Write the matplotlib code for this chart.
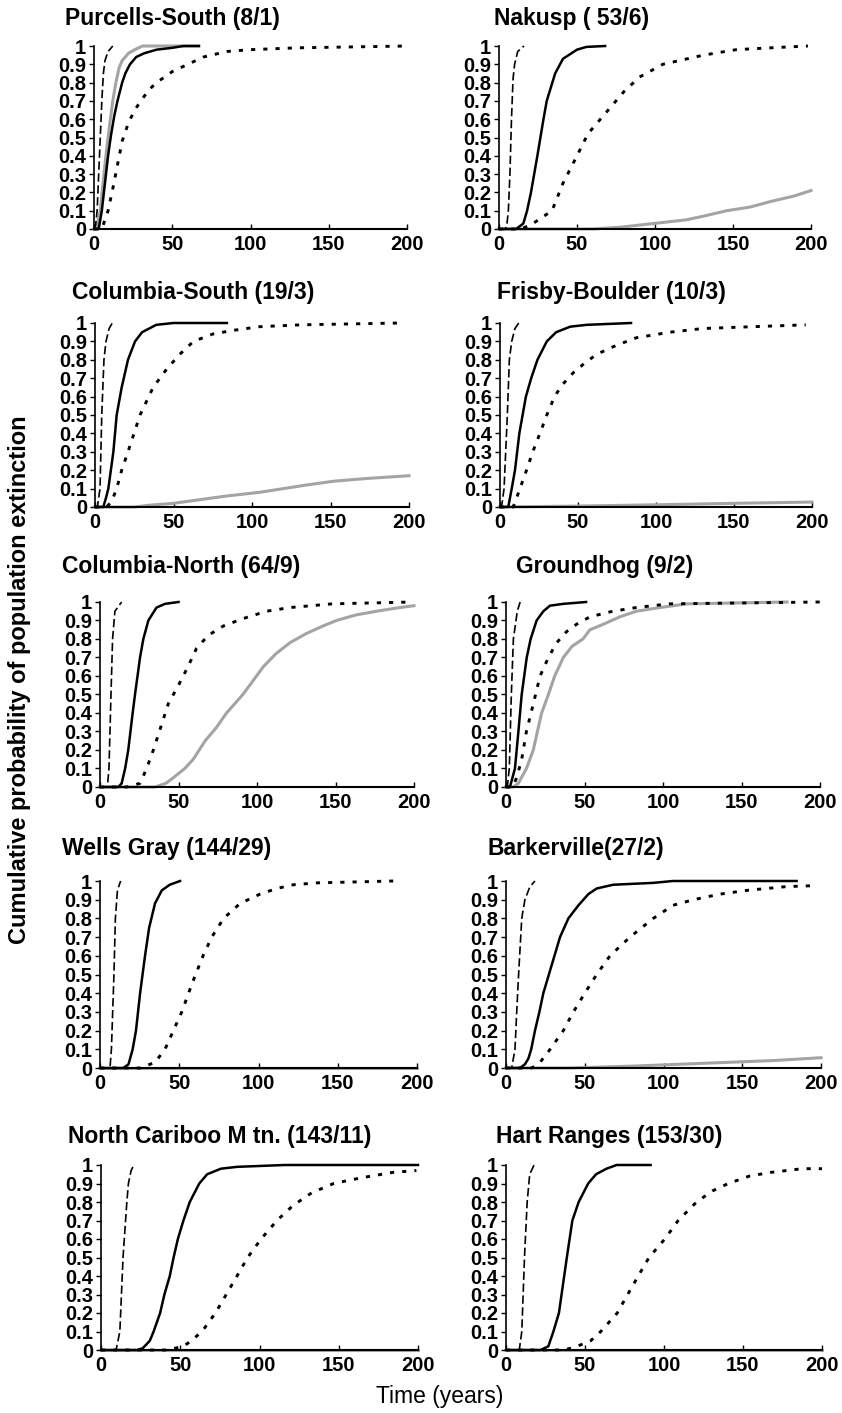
import matplotlib
matplotlib.use("Agg")
import matplotlib.pyplot as plt

plt.rcParams['font.family'] = ['Liberation Sans', 'DejaVu Sans']
plt.rcParams['lines.scale_dashes'] = False

# ---- data: (time in years, cumulative probability) ----
titles = ["Purcells-South (8/1)", "Nakusp ( 53/6)",
          "Columbia-South (19/3)", "Frisby-Boulder (10/3)",
          "Columbia-North (64/9)", "Groundhog (9/2)",
          "Wells Gray (144/29)", "Barkerville(27/2)",
          "North Cariboo M tn. (143/11)", "Hart Ranges (153/30)"]

purcells_dash = ([0, 1, 2, 3, 4, 5, 6, 7, 9, 12],
                 [0, 0.02, 0.1, 0.3, 0.5, 0.7, 0.85, 0.92, 0.97, 1.0])
purcells_solid = ([0, 3, 5, 7, 9, 11, 13, 15, 18, 20, 23, 27, 32, 40, 50, 57, 67],
                  [0, 0, 0.1, 0.25, 0.4, 0.52, 0.62, 0.7, 0.8, 0.85, 0.9, 0.94, 0.96, 0.98, 0.99, 1.0, 1.0])
purcells_dot = ([0, 5, 7, 9, 12, 15, 18, 22, 26, 30, 35, 40, 50, 60, 70, 85, 100, 130, 200],
                [0, 0, 0.05, 0.1, 0.22, 0.35, 0.48, 0.58, 0.65, 0.7, 0.76, 0.8, 0.86, 0.9, 0.94, 0.97, 0.98, 0.99, 1.0])
purcells_gray = ([0, 2, 4, 6, 8, 10, 12, 14, 16, 18, 22, 26, 31, 67],
                 [0, 0.02, 0.1, 0.27, 0.43, 0.57, 0.7, 0.8, 0.88, 0.92, 0.96, 0.98, 1.0, 1.0])

nakusp_dash = ([0, 4, 5, 6, 7, 8, 9, 10, 12, 16],
               [0, 0, 0.02, 0.1, 0.3, 0.6, 0.82, 0.9, 0.97, 1.0])
nakusp_solid = ([0, 11, 15.6, 18, 20.5, 24.6, 28.5, 30.6, 36, 41, 50, 56, 68],
                [0, 0, 0.03, 0.1, 0.2, 0.4, 0.6, 0.7, 0.85, 0.93, 0.98, 0.995, 1.0])
nakusp_dot = ([0, 13.5, 20, 34, 41, 50, 57, 69, 80, 90, 105, 131, 152, 174, 198],
              [0, 0, 0.02, 0.1, 0.25, 0.4, 0.52, 0.64, 0.75, 0.83, 0.9, 0.95, 0.98, 0.99, 1.0])
nakusp_gray = ([0, 60, 78, 99, 120, 131, 146, 161, 174, 189, 200],
               [0, 0, 0.01, 0.03, 0.05, 0.07, 0.1, 0.12, 0.15, 0.18, 0.21])

colsouth_dash = ([0, 1.5, 3.2, 4.3, 5.7, 7, 9, 11],
                 [0, 0, 0.1, 0.5, 0.8, 0.9, 0.97, 1.0])
colsouth_solid = ([0, 5.3, 7, 8.5, 11.7, 13.8, 17, 21, 25.5, 30, 39, 50, 84],
                  [0, 0, 0.05, 0.1, 0.3, 0.5, 0.65, 0.8, 0.9, 0.95, 0.99, 1.0, 1.0])
colsouth_dot = ([0, 7.4, 10.6, 13.8, 17, 21, 28.7, 37, 45.7, 54, 62.7, 75, 88, 105, 131, 195],
                [0, 0, 0.03, 0.1, 0.2, 0.3, 0.5, 0.65, 0.75, 0.83, 0.9, 0.94, 0.96, 0.98, 0.99, 1.0])
colsouth_gray = ([0, 25, 35, 50, 67, 84, 105, 120, 135, 152, 173, 200],
                 [0, 0, 0.01, 0.02, 0.04, 0.06, 0.08, 0.1, 0.12, 0.14, 0.155, 0.17])

frisby_dash = ([0, 1, 2.6, 4.7, 6, 7.5, 9.6, 12],
               [0, 0, 0.1, 0.5, 0.8, 0.9, 0.97, 1.0])
frisby_solid = ([0, 5.3, 7.5, 9.6, 12.4, 14.5, 16.6, 20, 24, 30, 36, 45, 55.5, 84],
                [0, 0, 0.1, 0.2, 0.4, 0.5, 0.6, 0.7, 0.8, 0.9, 0.95, 0.98, 0.99, 1.0])
frisby_dot = ([0, 8.5, 12.8, 17, 21, 25.6, 30, 35, 39.5, 47, 54, 62, 75, 87.5, 109, 130, 162, 196],
              [0, 0, 0.1, 0.2, 0.3, 0.4, 0.5, 0.6, 0.66, 0.73, 0.78, 0.83, 0.88, 0.92, 0.95, 0.97, 0.98, 0.99])
frisby_gray = ([0, 50, 100, 150, 200],
               [0, 0.005, 0.012, 0.02, 0.027])

colnorth_dash = ([0, 4.7, 5.7, 7, 8, 9.5, 13.8],
                 [0, 0, 0.1, 0.5, 0.8, 0.95, 1.0])
colnorth_solid = ([0, 11.7, 13.8, 16, 18, 20.8, 22.3, 25.5, 27.6, 30.8, 36, 41.4, 50],
                  [0, 0, 0.02, 0.1, 0.2, 0.4, 0.5, 0.7, 0.8, 0.9, 0.97, 0.99, 1.0])
colnorth_dot = ([0, 17, 25.5, 29.7, 34, 37.8, 43.5, 50, 56, 61.5, 69, 78.5, 91, 106, 121, 148, 199],
                [0, 0, 0.02, 0.1, 0.2, 0.3, 0.45, 0.55, 0.65, 0.75, 0.82, 0.87, 0.91, 0.95, 0.97, 0.99, 1.0])
colnorth_gray = ([0, 35, 42, 46.7, 54, 59.4, 67, 74, 80.6, 91, 99.7, 104, 112, 121, 131.5, 142, 150.6, 163, 176, 191, 200],
                 [0, 0, 0.02, 0.05, 0.1, 0.15, 0.25, 0.32, 0.4, 0.5, 0.6, 0.65, 0.72, 0.78, 0.83, 0.87, 0.9, 0.93, 0.95, 0.97, 0.98])

groundhog_dash = ([0, 0.8, 2.1, 3.4, 4.7, 7.2, 9],
                  [0, 0, 0.1, 0.5, 0.8, 0.95, 1.0])
groundhog_solid = ([0, 2.5, 5.7, 7.9, 10, 13.2, 15.7, 19.5, 23.8, 28, 36.5, 51],
                   [0, 0, 0.1, 0.3, 0.5, 0.7, 0.8, 0.9, 0.95, 0.98, 0.99, 1.0])
groundhog_dot = ([0, 4.2, 6.8, 10, 13, 17.4, 21.7, 27, 32.3, 38.6, 45, 53.5, 68, 83, 104, 200],
                 [0, 0, 0.05, 0.15, 0.3, 0.45, 0.6, 0.7, 0.78, 0.84, 0.88, 0.92, 0.95, 0.97, 0.99, 1.0])
groundhog_gray = ([0, 4.7, 7.9, 13, 17.4, 20, 22.7, 27, 31, 36.5, 42, 49, 53.5, 62, 72.6, 83, 98, 115, 179],
                  [0, 0, 0.02, 0.1, 0.2, 0.3, 0.4, 0.5, 0.6, 0.7, 0.76, 0.8, 0.85, 0.88, 0.92, 0.95, 0.97, 0.99, 1.0])

wells_dash = ([0, 6.3, 7.2, 8.8, 9.7, 11, 13],
              [0, 0, 0.1, 0.5, 0.8, 0.95, 1.0])
wells_solid = ([0, 14.7, 18, 20.6, 22.7, 25.3, 28.4, 31, 34.7, 39, 44, 50.5],
               [0, 0, 0.02, 0.1, 0.2, 0.4, 0.6, 0.75, 0.88, 0.95, 0.98, 1.0])
wells_dot = ([0, 25.3, 34.7, 41, 46.3, 51.6, 58, 65, 70.5, 78, 88.4, 101, 111.6, 122, 137, 185],
             [0, 0, 0.03, 0.1, 0.2, 0.3, 0.45, 0.6, 0.7, 0.8, 0.88, 0.93, 0.96, 0.98, 0.99, 1.0])
wells_gray = ([0, 200], [0, 0])

barker_dash = ([0, 3.6, 5.7, 6.8, 8, 10, 12, 15.2, 18.4],
               [0, 0, 0.1, 0.3, 0.5, 0.8, 0.9, 0.97, 1.0])
barker_solid = ([0, 8.9, 12, 14.2, 16, 18.4, 21.2, 23.7, 29, 34.3, 39.6, 46, 52.3, 57.6, 68, 93.5, 106, 184.5],
                [0, 0, 0.02, 0.05, 0.1, 0.2, 0.3, 0.4, 0.55, 0.7, 0.8, 0.87, 0.93, 0.96, 0.98, 0.99, 1.0, 1.0])
barker_dot = ([0, 16.3, 21.6, 28, 36.4, 42.8, 50, 57.6, 66, 78.7, 93.5, 106, 119, 136, 153, 178, 195],
              [0, 0, 0.03, 0.1, 0.2, 0.3, 0.4, 0.5, 0.6, 0.7, 0.8, 0.87, 0.9, 0.93, 0.95, 0.97, 0.975])
barker_gray = ([0, 40, 80, 110, 140, 170, 200],
               [0, 0, 0.01, 0.02, 0.03, 0.04, 0.055])

cariboo_dash = ([0, 9.5, 11.9, 12.9, 13.9, 16.3, 17.3, 19, 20.7],
                [0, 0, 0.1, 0.3, 0.5, 0.8, 0.9, 0.97, 1.0])
cariboo_solid = ([0, 23, 26.4, 30.8, 33.2, 37.3, 40, 43.4, 45.8, 48.5, 52, 56, 62, 67, 75.6, 85.8, 116, 200],
                 [0, 0, 0.01, 0.05, 0.1, 0.2, 0.3, 0.4, 0.5, 0.6, 0.7, 0.8, 0.9, 0.95, 0.98, 0.99, 1.0, 1.0])
cariboo_dot = ([0, 41.7, 52, 57, 63.7, 72.2, 79, 85.8, 92.5, 101, 111, 121, 133, 146.8, 163.7, 184, 199],
               [0, 0, 0.02, 0.05, 0.1, 0.2, 0.3, 0.4, 0.5, 0.6, 0.7, 0.78, 0.85, 0.9, 0.93, 0.96, 0.97])
cariboo_gray = ([0, 200], [0, 0])

hart_dash = ([0, 8.4, 10, 11.7, 13.4, 15, 17.8],
             [0, 0, 0.1, 0.5, 0.8, 0.95, 1.0])
hart_solid = ([0, 21.8, 26.8, 30, 33.5, 36, 38.5, 42, 46, 52, 57, 63.6, 70, 91.5],
              [0, 0, 0.02, 0.1, 0.2, 0.35, 0.5, 0.7, 0.8, 0.9, 0.95, 0.98, 1.0, 1.0])
hart_dot = ([0, 37, 45, 53.6, 60, 70.4, 77, 83.7, 90.5, 100.5, 109, 120.6, 130.7, 140.7, 154, 167.5, 187.6, 200],
            [0, 0, 0.02, 0.05, 0.1, 0.2, 0.3, 0.4, 0.5, 0.6, 0.7, 0.8, 0.86, 0.9, 0.94, 0.96, 0.98, 0.98])
hart_gray = ([0, 200], [0, 0])

curves = [
    (purcells_gray, purcells_dot, purcells_solid, purcells_dash),
    (nakusp_gray, nakusp_dot, nakusp_solid, nakusp_dash),
    (colsouth_gray, colsouth_dot, colsouth_solid, colsouth_dash),
    (frisby_gray, frisby_dot, frisby_solid, frisby_dash),
    (colnorth_gray, colnorth_dot, colnorth_solid, colnorth_dash),
    (groundhog_gray, groundhog_dot, groundhog_solid, groundhog_dash),
    (wells_gray, wells_dot, wells_solid, wells_dash),
    (barker_gray, barker_dot, barker_solid, barker_dash),
    (cariboo_gray, cariboo_dot, cariboo_solid, cariboo_dash),
    (hart_gray, hart_dot, hart_solid, hart_dash),
]

yticks = [i / 10 for i in range(11)]
ylabels = ["0", "0.1", "0.2", "0.3", "0.4", "0.5", "0.6", "0.7", "0.8", "0.9", "1"]
xticks = [0, 50, 100, 150, 200]

W, H = 842, 1413
fig = plt.figure(figsize=(W / 100, H / 100), dpi=100)

# axes box in pixels: left, right, top (y=1), bottom (y=0)
boxes = [(94, 407, 46, 229), (499, 811, 46, 229),
         (95, 409, 323, 507), (500, 812, 323, 507),
         (100, 414, 602, 787), (506, 820, 602, 787),
         (100, 417, 881, 1068), (506, 821, 881, 1068),
         (101, 418, 1165, 1350), (506, 822, 1165, 1350)]
title_pos = [(65, 18), (494, 18), (72, 292), (497, 292), (62, 567), (516, 567),
             (62, 848), (487, 848), (68, 1137), (496, 1137)]

styles = [dict(color='#a4a4a4', lw=2.2, ls='-'),
          dict(color='black', lw=2.1, dashes=(3.0, 5.8)),
          dict(color='black', lw=1.8, ls='-'),
          dict(color='black', lw=1.2, dashes=(6.0, 2.6))]

for i in range(10):
    l, r, t, b = boxes[i]
    ax = fig.add_axes([l / W, 1 - b / H, (r - l) / W, (b - t) / H])
    for (xs, ys), st in zip(curves[i], styles):
        ax.plot(xs, ys, clip_on=False, **st)
    ax.set_xlim(0, 200)
    ax.set_ylim(0, 1)
    ax.spines['top'].set_visible(False)
    ax.spines['right'].set_visible(False)
    ax.spines['left'].set_linewidth(1.2)
    ax.spines['bottom'].set_linewidth(1.5)
    ax.set_yticks(yticks)
    ax.set_yticklabels(ylabels, fontsize=14.5, fontweight='bold')
    ax.set_xticks(xticks)
    ax.set_xticklabels([str(x) for x in xticks], fontsize=14.5, fontweight='bold')
    ax.tick_params(axis='y', direction='out', length=3.5, width=1, pad=2)
    ax.tick_params(axis='x', direction='in', length=3.5, width=1, pad=4)
    fig.text(title_pos[i][0] / W, 1 - title_pos[i][1] / H, titles[i],
             fontsize=16.5, fontweight='bold', ha='left', va='center')

fig.text(20 / W, 1 - 680 / H, "Cumulative probability of population extinction",
         rotation=90, fontsize=17, fontweight='bold', ha='center', va='center')
fig.text(440 / W, 1 - 1397 / H, "Time (years)", fontsize=16.5, ha='center', va='center')

fig.savefig("out.png", dpi=100)
